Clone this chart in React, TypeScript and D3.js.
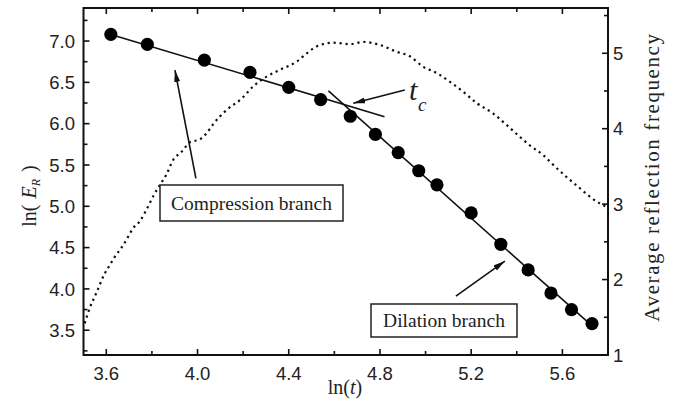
import * as d3 from 'd3';

// ln(t) vs ln(E_R) measured points
const lnT = [3.62, 3.78, 4.03, 4.23, 4.4, 4.54, 4.67, 4.78, 4.88, 4.97, 5.05, 5.2, 5.33, 5.45, 5.55, 5.64, 5.73];
const lnER = [7.08, 6.96, 6.77, 6.62, 6.44, 6.29, 6.09, 5.87, 5.65, 5.43, 5.26, 4.92, 4.54, 4.23, 3.95, 3.75, 3.58];

// fitted branches
const compressionFit: [number, number][] = [[3.62, 7.08], [4.82, 6.085]];
const dilationFit: [number, number][] = [[4.574, 6.398], [5.735, 3.54]];

// average reflection frequency (dotted, right axis)
const freqT = [3.505, 3.527, 3.556, 3.593, 3.615, 3.637, 3.666, 3.689, 3.717, 3.746, 3.768, 3.79, 3.812, 3.841, 3.863, 3.894, 3.929, 3.967, 4.011, 4.04, 4.069, 4.128, 4.194, 4.244, 4.303, 4.361, 4.435, 4.479, 4.522, 4.595, 4.668, 4.727, 4.8, 4.873, 4.931, 4.99, 5.048, 5.107, 5.165, 5.224, 5.297, 5.355, 5.414, 5.457, 5.516, 5.56, 5.618, 5.677, 5.72, 5.764, 5.795];
const freqVal = [1.42, 1.62, 1.82, 2.08, 2.19, 2.3, 2.42, 2.53, 2.68, 2.77, 2.88, 3.01, 3.14, 3.28, 3.39, 3.59, 3.69, 3.82, 3.86, 3.94, 4.06, 4.25, 4.4, 4.56, 4.69, 4.78, 4.89, 5.0, 5.09, 5.14, 5.12, 5.15, 5.11, 5.02, 4.96, 4.82, 4.74, 4.62, 4.49, 4.34, 4.2, 4.05, 3.89, 3.78, 3.65, 3.52, 3.36, 3.21, 3.1, 3.01, 2.96];

const xTicks = [3.6, 4.0, 4.4, 4.8, 5.2, 5.6];
const xMinor = [3.8, 4.2, 4.6, 5.0, 5.4];
const yTicks = [3.5, 4.0, 4.5, 5.0, 5.5, 6.0, 6.5, 7.0];
const yMinor = [3.25, 3.75, 4.25, 4.75, 5.25, 5.75, 6.25, 6.75, 7.25];
const rTicks = [1, 2, 3, 4, 5];
const rMinor = [1.5, 2.5, 3.5, 4.5, 5.5];

const W = 673;
const H = 411;
const left = 83.5;
const right = 608;
const top = 8;
const bottom = 355;

const sans = 'Liberation Sans, Arial, sans-serif';
const serif = 'Liberation Serif, Times New Roman, serif';

export default function App() {
  const x = d3.scaleLinear().domain([3.5, 5.8]).range([left, right]);
  const y = d3.scaleLinear().domain([3.2, 7.4]).range([bottom, top]);
  const yr = d3.scaleLinear().domain([1, 5.6]).range([bottom, top]);

  const fitLine = d3.line<[number, number]>().x((d) => x(d[0])).y((d) => y(d[1]));
  const freqLine = d3
    .line<number>()
    .x((_, i) => x(freqT[i]))
    .y((d) => yr(d))
    .curve(d3.curveMonotoneX);

  const arrow = (x1: number, y1: number, x2: number, y2: number) => (
    <line x1={x(x1)} y1={y(y1)} x2={x(x2)} y2={y(y2)} stroke="#111" strokeWidth={1.6} markerEnd="url(#head)" />
  );

  const tick = 6;
  const minor = 4;

  return (
    <div style={{ position: 'absolute', left: 0, top: 0 }}>
      <svg width={W} height={H} style={{ display: 'block', background: '#fff' }}>
        <defs>
          <marker id="head" viewBox="0 0 12 6" refX={12} refY={3} markerWidth={12} markerHeight={6} markerUnits="userSpaceOnUse" orient="auto">
            <path d="M0,0 L12,3 L0,6 Z" fill="#111" />
          </marker>
        </defs>

        {/* reflection frequency */}
        <path d={freqLine(freqVal) ?? ''} fill="none" stroke="#111" strokeWidth={2.2} strokeDasharray="2.2 3.8" />

        {/* fits */}
        <path d={fitLine(compressionFit) ?? ''} fill="none" stroke="#111" strokeWidth={1.6} />
        <path d={fitLine(dilationFit) ?? ''} fill="none" stroke="#111" strokeWidth={1.6} />

        {lnT.map((t, i) => (
          <circle key={i} cx={x(t)} cy={y(lnER[i])} r={6.6} fill="#000" />
        ))}

        {/* frame */}
        <rect x={left} y={top} width={right - left} height={bottom - top} fill="none" stroke="#111" strokeWidth={2} />

        {xTicks.map((t) => (
          <g key={'x' + t}>
            <line x1={x(t)} x2={x(t)} y1={bottom} y2={bottom - tick} stroke="#111" strokeWidth={1.6} />
            <line x1={x(t)} x2={x(t)} y1={top} y2={top + tick} stroke="#111" strokeWidth={1.6} />
            <text x={x(t)} y={380} textAnchor="middle" fontFamily={sans} fontSize={18.5} fill="#222">
              {t.toFixed(1)}
            </text>
          </g>
        ))}
        {xMinor.map((t) => (
          <g key={'xm' + t}>
            <line x1={x(t)} x2={x(t)} y1={bottom} y2={bottom - minor} stroke="#111" strokeWidth={1.6} />
            <line x1={x(t)} x2={x(t)} y1={top} y2={top + minor} stroke="#111" strokeWidth={1.6} />
          </g>
        ))}
        {yTicks.map((v) => (
          <g key={'y' + v}>
            <line x1={left} x2={left + tick} y1={y(v)} y2={y(v)} stroke="#111" strokeWidth={1.6} />
            <text x={75} y={y(v)} dy="0.36em" textAnchor="end" fontFamily={sans} fontSize={18.5} fill="#222">
              {v.toFixed(1)}
            </text>
          </g>
        ))}
        {yMinor.map((v) => (
          <line key={'ym' + v} x1={left} x2={left + minor} y1={y(v)} y2={y(v)} stroke="#111" strokeWidth={1.6} />
        ))}
        {rTicks.map((v) => (
          <g key={'r' + v}>
            <line x1={right} x2={right - tick} y1={yr(v)} y2={yr(v)} stroke="#111" strokeWidth={1.6} />
            <text x={613} y={yr(v)} dy="0.36em" textAnchor="start" fontFamily={sans} fontSize={18.5} fill="#222">
              {v}
            </text>
          </g>
        ))}
        {rMinor.map((v) => (
          <line key={'rm' + v} x1={right} x2={right - minor} y1={yr(v)} y2={yr(v)} stroke="#111" strokeWidth={1.6} />
        ))}

        {/* axis titles */}
        <text x={345} y={394} textAnchor="middle" fontFamily={serif} fontSize={20} fill="#222">
          ln(<tspan fontStyle="italic">t</tspan>)
        </text>
        <text transform="translate(36,196) rotate(-90)" textAnchor="middle" fontFamily={serif} fontSize={20} fill="#222">
          ln(<tspan dx={6} fontStyle="italic">E</tspan>
          <tspan fontStyle="italic" fontSize={12} dy={4}>R</tspan>
          <tspan dy={-4} dx={7}>)</tspan>
        </text>
        <text transform="translate(659,177) rotate(-90)" textAnchor="middle" fontFamily={serif} fontSize={21} fill="#222" letterSpacing={1.6}>
          Average reflection frequency
        </text>

        {/* annotations */}
        {arrow(3.993, 5.338, 3.901, 6.649)}
        {arrow(5.133, 3.913, 5.348, 4.337)}
        {arrow(4.909, 6.407, 4.683, 6.246)}

        <text x={409} y={100} fontFamily={serif} fontStyle="italic" fontSize={30} fill="#222">t</text>
        <text x={418} y={111} fontFamily={serif} fontStyle="italic" fontSize={19} fill="#222">c</text>

        <rect x={160} y={185} width={183} height={36} fill="#fff" stroke="#222" strokeWidth={1.5} />
        <text x={251.5} y={209.5} textAnchor="middle" fontFamily={serif} fontSize={19.5} fill="#222">
          Compression branch
        </text>
        <rect x={371} y={304} width={146} height={33} fill="#fff" stroke="#222" strokeWidth={1.5} />
        <text x={444} y={327} textAnchor="middle" fontFamily={serif} fontSize={19.5} fill="#222">
          Dilation branch
        </text>
      </svg>
    </div>
  );
}
